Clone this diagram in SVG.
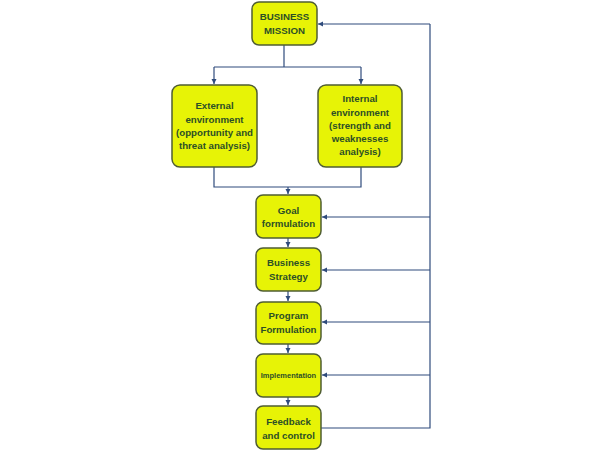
<svg xmlns="http://www.w3.org/2000/svg" width="600" height="451" viewBox="0 0 600 451">
<style>
.box{fill:#e7f306;stroke:#4f5d33;stroke-width:1.5}
.t{font-family:"Liberation Sans",Arial,sans-serif;font-weight:bold;font-size:9.7px;fill:#2c4f26;text-anchor:middle}
.c{fill:none;stroke:#2f4b7c;stroke-width:1.2}
</style>
<defs>
<marker id="a" markerWidth="6" markerHeight="6" refX="5" refY="3" orient="auto" markerUnits="userSpaceOnUse">
<path d="M0,0.5 L5,3 L0,5.5 Z" fill="#2f4b7c"/>
</marker>
</defs>
<rect width="600" height="451" fill="#ffffff"/>
<g id="connectors">
<path class="c" d="M284,45 V67 M214,67 H361"/>
<path class="c" d="M214,67 V84" marker-end="url(#a)"/>
<path class="c" d="M361,67 V84" marker-end="url(#a)"/>
<path class="c" d="M214,167 V187 H361 V167"/>
<path class="c" d="M288,187 V194" marker-end="url(#a)"/>
<path class="c" d="M288,238 V247" marker-end="url(#a)"/>
<path class="c" d="M288,291 V301" marker-end="url(#a)"/>
<path class="c" d="M288,344 V353" marker-end="url(#a)"/>
<path class="c" d="M288,397 V405" marker-end="url(#a)"/>
<path class="c" d="M321,428 H430 V24"/>
<path class="c" d="M430,24 H318" marker-end="url(#a)"/>
<path class="c" d="M430,217 H322" marker-end="url(#a)"/>
<path class="c" d="M430,270 H322" marker-end="url(#a)"/>
<path class="c" d="M430,322 H322" marker-end="url(#a)"/>
<path class="c" d="M430,375 H322" marker-end="url(#a)"/>
</g>
<g id="mission">
<rect class="box" x="252" y="2" width="65" height="43" rx="7"/>
<text class="t" x="284.5" y="20">BUSINESS</text>
<text class="t" x="284.5" y="34">MISSION</text>
</g>
<g id="external">
<rect class="box" x="172" y="85" width="85" height="82" rx="8"/>
<text class="t" x="214.5" y="109">External</text>
<text class="t" x="214.5" y="123">environment</text>
<text class="t" x="214.5" y="136">(opportunity and</text>
<text class="t" x="214.5" y="149">threat analysis)</text>
</g>
<g id="internal">
<rect class="box" x="318" y="85" width="84" height="82" rx="8"/>
<text class="t" x="360" y="102">Internal</text>
<text class="t" x="360" y="116">environment</text>
<text class="t" x="360" y="129">(strength and</text>
<text class="t" x="360" y="142">weaknesses</text>
<text class="t" x="360" y="155">analysis)</text>
</g>
<g id="goal">
<rect class="box" x="256" y="195" width="65" height="43" rx="7"/>
<text class="t" x="288.5" y="214">Goal</text>
<text class="t" x="288.5" y="227">formulation</text>
</g>
<g id="strategy">
<rect class="box" x="256" y="248" width="65" height="43" rx="7"/>
<text class="t" x="288.5" y="266">Business</text>
<text class="t" x="288.5" y="280">Strategy</text>
</g>
<g id="program">
<rect class="box" x="256" y="302" width="65" height="42" rx="7"/>
<text class="t" x="288.5" y="319">Program</text>
<text class="t" x="288.5" y="333">Formulation</text>
</g>
<g id="implementation">
<rect class="box" x="256" y="354" width="65" height="43" rx="7"/>
<text class="t" x="288.5" y="378" style="font-size:7.5px">Implementation</text>
</g>
<g id="feedback">
<rect class="box" x="256" y="406" width="65" height="43" rx="7"/>
<text class="t" x="288.5" y="425">Feedback</text>
<text class="t" x="288.5" y="439">and control</text>
</g>
</svg>
